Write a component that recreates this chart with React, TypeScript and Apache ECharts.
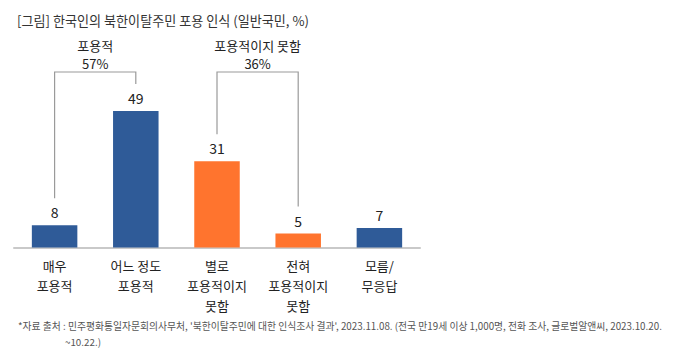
import React, { useEffect, useRef } from "react";
import * as echarts from "echarts";

const categories = ["매우\n포용적", "어느 정도\n포용적", "별로\n포용적이지\n못함", "전혀\n포용적이지\n못함", "모름/\n무응답"];
const values = [8, 49, 31, 5, 7];
const barColors = ["#2f5b98", "#2f5b98", "#ff742e", "#ff742e", "#2f5b98"];
const groupLabels = ["포용적", "포용적이지 못함"];
const groupValues = ["57%", "36%"];
const groupRanges = [[0, 1], [2, 3]];
const titleText = "[그림] 한국인의 북한이탈주민 포용 인식 (일반국민, %)";
const noteLine1 = "*자료 출처 : 민주평화통일자문회의사무처, '북한이탈주민에 대한 인식조사 결과', 2023.11.08. (전국 만19세 이상 1,000명, 전화 조사, 글로벌알앤씨, 2023.10.20.";
const noteLine2 = "~10.22.)";

const FONT = "'Noto Sans CJK KR', 'Noto Sans', sans-serif";

export default function App() {
  const ref = useRef<HTMLDivElement>(null);
  useEffect(() => {
    document.body.style.margin = "0";
    const chart = echarts.init(ref.current!, null, { renderer: "svg" });
    chart.setOption({
      animation: false,
      textStyle: { fontFamily: FONT },
      grid: { left: 14, width: 406, top: 80.5, height: 167 },
      xAxis: {
        type: "category",
        data: categories,
        axisLine: { lineStyle: { color: "#c9c9c9", width: 2 } },
        axisTick: { show: false },
        axisLabel: { color: "#222", fontSize: 13, lineHeight: 20, margin: 8, interval: 0, fontFamily: FONT },
      },
      yAxis: { type: "value", min: 0, max: 60, show: false, splitLine: { show: false } },
      series: [
        {
          type: "bar",
          data: values.map((v, i) => ({ value: v, itemStyle: { color: barColors[i] } })),
          barWidth: 45.5,
          label: { show: true, position: "top", distance: 6, color: "#222", fontSize: 14, fontFamily: FONT },
        },
      ],
    });
    const topY = 72;
    const graphics: any[] = [];
    groupRanges.forEach((rg, gi) => {
      const [x0, y0] = chart.convertToPixel({ seriesIndex: 0 }, [rg[0], values[rg[0]]]) as number[];
      const [x1, y1] = chart.convertToPixel({ seriesIndex: 0 }, [rg[1], values[rg[1]]]) as number[];
      graphics.push({
        type: "polyline",
        shape: { points: [[x0, y0 - 27], [x0, topY], [x1, topY], [x1, y1 - 27]] },
        style: { stroke: "#9a9a9a", lineWidth: 1.2, fill: null },
      });
      const cx = (x0 + x1) / 2;
      graphics.push({
        type: "text", x: cx, y: 45,
        style: { text: groupLabels[gi], fill: "#222", font: `13px ${FONT}`, align: "center", verticalAlign: "middle" },
      });
      graphics.push({
        type: "text", x: cx, y: 63,
        style: { text: groupValues[gi], fill: "#222", font: `13px ${FONT}`, align: "center", verticalAlign: "middle" },
      });
    });
    graphics.push({
      type: "text", x: 17, y: 20,
      style: { text: titleText, fill: "#333", font: `13.1px ${FONT}`, verticalAlign: "middle" },
    });
    graphics.push({
      type: "text", x: 18, y: 326,
      style: { text: noteLine1, fill: "#555", font: `9.8px ${FONT}`, verticalAlign: "middle" },
    });
    graphics.push({
      type: "text", x: 65, y: 342,
      style: { text: noteLine2, fill: "#555", font: `9.8px ${FONT}`, verticalAlign: "middle" },
    });
    chart.setOption({ graphic: graphics });
    return () => chart.dispose();
  }, []);
  return <div ref={ref} style={{ width: 674, height: 357 }} />;
}
